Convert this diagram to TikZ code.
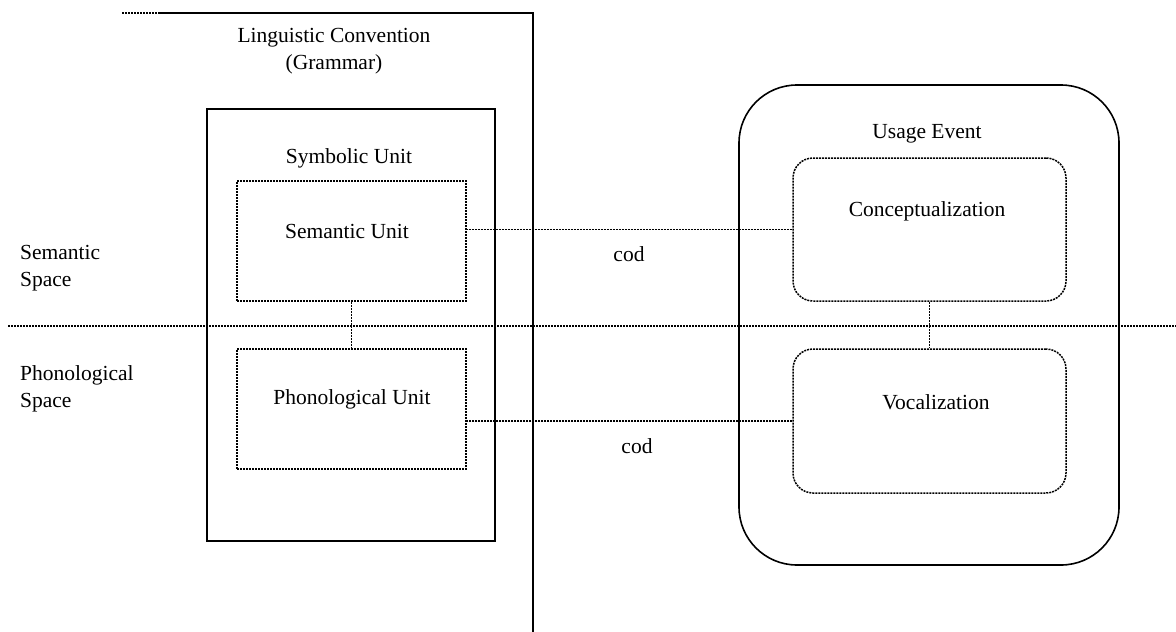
\documentclass[tikz,border=0pt]{standalone}
\usepackage{fontspec}
\setmainfont{Liberation Serif}
\begin{document}
\begin{tikzpicture}[x=1pt,y=-1pt,
  solidline/.style={line width=1.6pt,black},
  dotline/.style={line width=1.5pt,black,dash pattern=on 2pt off 1pt},
  solidbox/.style={draw,solidline,rectangle,inner sep=0pt},
  dotbox/.style={draw,dotline,rectangle,inner sep=0pt},
  lbl/.style={font=\fontsize{21.5pt}{27pt}\selectfont,inner sep=0pt,align=center}]
\useasboundingbox (0,0) rectangle (1176,632);
% grammar boundary
\coordinate (tl) at (122,13);
\coordinate (tm) at (160,13);
\coordinate (tc) at (533,13);
\coordinate (bc) at (533,632);
\draw[dotline] (tl) -- (tm);
\draw[solidline] (tm) -- (tc) -- (bc);
% horizontal divider
\coordinate (hl) at (8,326);
\coordinate (hr) at (1176,326);
\draw[dotline] (hl) -- (hr);
% symbolic unit
\node[solidbox,minimum width=288pt,minimum height=432pt] (sym) at (351,325) {};
\node[dotbox,minimum width=229pt,minimum height=120pt] (sem) at (351.5,241) {};
\node[dotbox,minimum width=229pt,minimum height=120pt] (phon) at (351.5,409) {};
% usage event
\node[solidbox,rounded corners=58pt,minimum width=380pt,minimum height=480pt] (usage) at (929,325) {};
\node[dotbox,rounded corners=20pt,minimum width=273pt,minimum height=143pt] (concept) at (929.5,229.5) {};
\node[dotbox,rounded corners=20pt,minimum width=273pt,minimum height=144pt] (vocal) at (929.5,421) {};
% connectors
\draw[dotline] (sem.south) -- (phon.north);
\draw[dotline] (concept.south) -- (vocal.north);
\draw[dotline] (concept.west) -- (concept.west -| sem.east);
\draw[dotline] (vocal.west) -- (vocal.west -| phon.east);
% labels
\node[lbl] (lc) at (334,51.5) {Linguistic Convention\\(Grammar)};
\node[lbl] (symlbl) at (349,158) {Symbolic Unit};
\node[lbl] (semlbl) at (347,231) {Semantic Unit};
\node[lbl] (phonlbl) at (352,399) {Phonological Unit};
\node[lbl] (uelbl) at (927,134) {Usage Event};
\node[lbl] (conlbl) at (927,211) {Conceptualization};
\node[lbl] (voclbl) at (936,402) {Vocalization};
\node[lbl] (cod1) at (629,254) {cod};
\node[lbl] (cod2) at (637,446) {cod};
\node[lbl,anchor=west,align=left] (sems) at (20,268.5) {Semantic\\Space};
\node[lbl,anchor=west,align=left] (phons) at (20,388.5) {Phonological\\Space};
\end{tikzpicture}
\end{document}
